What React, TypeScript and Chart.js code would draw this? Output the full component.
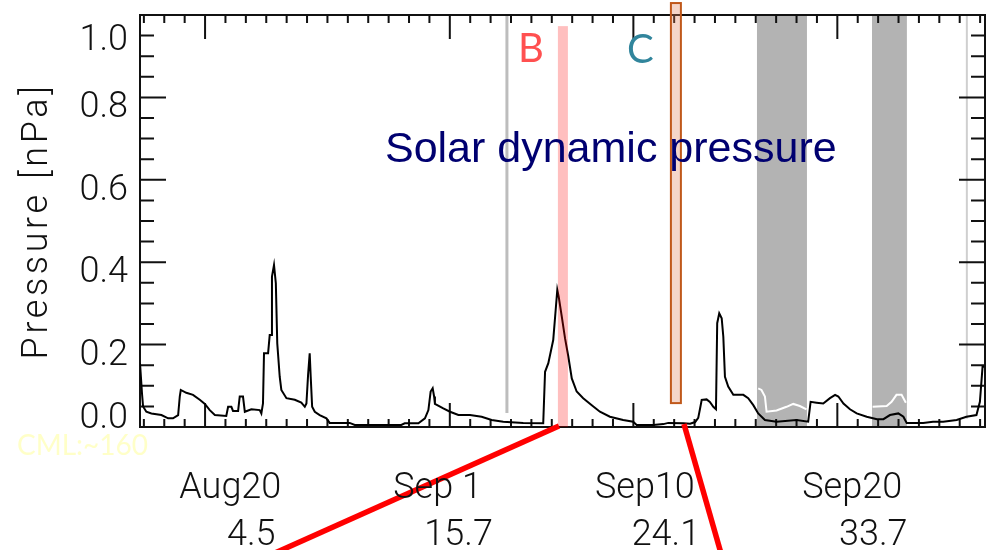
import React, { useEffect, useRef } from "react";
import { Chart, registerables } from "chart.js";

Chart.register(...registerables);

// Day of year (fractional), solar wind dynamic pressure [nPa]
const pressureDay = [
  228.81, 228.91, 228.96, 229.12, 229.37, 229.86, 230.19, 230.43, 230.68, 230.76,
  230.81, 231.08, 231.41, 231.74, 231.99, 232.23, 232.48, 233.04, 233.13, 233.29,
  233.37, 233.62, 233.7, 233.86, 233.95, 234.27, 234.68, 234.76, 234.84, 234.89,
  235.09, 235.17, 235.25, 235.28, 235.38, 235.47, 235.54, 235.66, 235.74, 235.99,
  236.4, 236.72, 236.89, 236.97, 237.05, 237.13, 237.18, 237.25, 237.38, 237.62,
  237.95, 238.11, 239.09, 239.34, 241.62, 241.79, 242.46, 242.78, 242.95, 243.06,
  243.16, 243.23, 243.27, 243.68, 244.01, 244.42, 244.99, 245.56, 246.05, 246.62,
  247.6, 248.58, 248.67, 248.83, 249.07, 249.19, 249.27, 249.34, 249.49, 249.65,
  249.81, 249.98, 250.22, 250.54, 250.96, 251.36, 251.85, 252.5, 252.99, 253.16,
  253.98, 254.47, 254.71, 255.45, 255.78, 256.03, 256.18, 256.27, 256.35, 256.59,
  256.75, 256.92, 257.05, 257.11, 257.21, 257.33, 257.41, 257.49, 257.65, 257.9,
  258.39, 258.63, 258.88, 259.12, 259.45, 260.02, 261.0, 261.57, 261.69, 261.98,
  262.31, 262.64, 262.89, 263.05, 263.3, 263.62, 263.95, 264.44, 264.94, 265.26,
  265.58, 265.99, 266.24, 266.4, 267.21, 267.69, 268.19, 268.85, 269.33, 269.82,
  269.99, 270.12, 270.19,
];
const pressureValue = [
  0.155, 0.08, 0.05, 0.037, 0.033, 0.029, 0.021, 0.021, 0.029, 0.074,
  0.09, 0.083, 0.078, 0.066, 0.056, 0.041, 0.029, 0.027, 0.049, 0.049,
  0.039, 0.039, 0.074, 0.074, 0.037, 0.043, 0.041, 0.033, 0.057, 0.179,
  0.179, 0.223, 0.223, 0.365, 0.393, 0.349, 0.203, 0.122, 0.09, 0.07,
  0.066, 0.059, 0.049, 0.057, 0.126, 0.179, 0.122, 0.049, 0.037, 0.029,
  0.021, 0.01, 0.01, 0.005, 0.005, 0.009, 0.009, 0.021, 0.041, 0.086,
  0.094, 0.074, 0.056, 0.045, 0.037, 0.029, 0.029, 0.025, 0.017, 0.013,
  0.01, 0.009, 0.134, 0.155, 0.211, 0.284, 0.333, 0.316, 0.268, 0.215,
  0.171, 0.118, 0.086, 0.07, 0.053, 0.037, 0.025, 0.017, 0.013, 0.005,
  0.005, 0.007, 0.01, 0.009, 0.008, 0.012, 0.022, 0.045, 0.066, 0.067,
  0.061, 0.049, 0.043, 0.252, 0.276, 0.264, 0.219, 0.122, 0.098, 0.078,
  0.078, 0.07, 0.053, 0.033, 0.017, 0.013, 0.017, 0.013, 0.061, 0.059,
  0.057, 0.07, 0.078, 0.074, 0.057, 0.043, 0.033, 0.025, 0.019, 0.019,
  0.029, 0.033, 0.025, 0.01, 0.01, 0.013, 0.013, 0.017, 0.025, 0.029,
  0.061, 0.146, 0.146,
];

// Light trace only visible over the grey intervals (null = gap)
const overlayDay = [
  259.12, 259.28, 259.45, 259.53, 260.02, 260.51, 260.84, 261.16, 261.49, 263.0,
  264.73, 265.42, 265.66, 265.9, 266.15, 266.36,
];
const overlayValue = [
  0.094, 0.09, 0.074, 0.037, 0.04, 0.049, 0.056, 0.051, 0.043, null,
  0.049, 0.051, 0.061, 0.078, 0.078, 0.059,
];

const majorTickDays = [232, 244, 253, 263];
const xTickLabels = ["Aug20", "Sep 1", "Sep10", "Sep20"];
const xTickSubLabels = ["4.5", "15.7", "24.1", "33.7"];
const yTickValues = [0, 0.2, 0.4, 0.6, 0.8, 1.0];
const yTickLabels = ["0.0", "0.2", "0.4", "0.6", "0.8", "1.0"];

const shadedBands = [
  [259.06, 261.51],
  [264.7, 266.41],
];
const markerLineB = [246.8, 0.034, 1.0];
const markerLineEnd = [269.35, 0.02, 1.0];
const bandB = [249.3, 249.79, 0.973];
const boxC = [254.84, 255.33, 0.058, 1.029];
const calloutB = [
  [249.35, 0.0024],
  [234.56, -0.325],
];
const calloutC = [
  [255.48, 0.0073],
  [257.39, -0.3228],
];

const annotations = [
  { text: "Solar dynamic pressure", day: 240.82, value: 0.643, color: "#000070", font: '43px "Liberation Sans", Arial, sans-serif' },
  { text: "B", day: 247.34, value: 0.886, color: "#ff5050", font: "40px Lato, sans-serif" },
  { text: "C", day: 252.69, value: 0.883, color: "#31859c", font: "40px Lato, sans-serif" },
  { text: "CML:~160", day: 222.78, value: -0.068, color: "#ffffc8", font: "28px Lato, sans-serif" },
];

const IDL_FONT = '300 36px Roboto, "DejaVu Sans", sans-serif';

const decorPlugin = {
  id: "decor",
  beforeDatasetsDraw(chart: any) {
    const { ctx, chartArea: a, scales } = chart;
    const x = scales.x;
    const y = scales.y;
    ctx.save();
    // grey intervals
    ctx.fillStyle = "#b3b3b3";
    for (const [d0, d1] of shadedBands) {
      const p0 = x.getPixelForValue(d0);
      const p1 = x.getPixelForValue(d1);
      ctx.fillRect(p0, a.top, p1 - p0, a.bottom - a.top);
    }
    // grey marker lines
    ctx.strokeStyle = "#bdbdbd";
    ctx.lineWidth = 3;
    ctx.beginPath();
    ctx.moveTo(x.getPixelForValue(markerLineB[0]), y.getPixelForValue(markerLineB[2]));
    ctx.lineTo(x.getPixelForValue(markerLineB[0]), y.getPixelForValue(markerLineB[1]));
    ctx.stroke();
    ctx.strokeStyle = "#cfcfcf";
    ctx.lineWidth = 2;
    ctx.beginPath();
    ctx.moveTo(x.getPixelForValue(markerLineEnd[0]), y.getPixelForValue(markerLineEnd[2]));
    ctx.lineTo(x.getPixelForValue(markerLineEnd[0]), y.getPixelForValue(markerLineEnd[1]));
    ctx.stroke();

    // frame
    ctx.strokeStyle = "#111";
    ctx.lineWidth = 2;
    ctx.strokeRect(a.left, a.top, a.right - a.left, a.bottom - a.top);
    // ticks
    ctx.beginPath();
    for (let d = Math.ceil(x.min); d <= x.max; d++) {
      const px = x.getPixelForValue(d);
      const len = majorTickDays.includes(d) ? 24 : 8;
      ctx.moveTo(px, a.bottom);
      ctx.lineTo(px, a.bottom - len);
      ctx.moveTo(px, a.top);
      ctx.lineTo(px, a.top + len);
    }
    for (let k = 0; k <= 20; k++) {
      const py = y.getPixelForValue(k * 0.05);
      const len = k % 4 === 0 ? 26 : 14;
      ctx.moveTo(a.left, py);
      ctx.lineTo(a.left + len, py);
      ctx.moveTo(a.right, py);
      ctx.lineTo(a.right - len, py);
    }
    ctx.stroke();

    // box C
    const bx0 = x.getPixelForValue(boxC[0]);
    const bx1 = x.getPixelForValue(boxC[1]);
    const by0 = y.getPixelForValue(boxC[3]);
    const by1 = y.getPixelForValue(boxC[2]);
    ctx.fillStyle = "rgba(225,130,90,0.33)";
    ctx.fillRect(bx0, by0, bx1 - bx0, by1 - by0);
    ctx.strokeStyle = "#c0581a";
    ctx.lineWidth = 2;
    ctx.strokeRect(bx0, by0, bx1 - bx0, by1 - by0);
    ctx.restore();
  },
  afterDatasetsDraw(chart: any) {
    const { ctx, chartArea: a, scales } = chart;
    const x = scales.x;
    const y = scales.y;
    const xl = scales.xl;
    ctx.save();
    // band B (translucent)
    const p0 = x.getPixelForValue(bandB[0]);
    const p1 = x.getPixelForValue(bandB[1]);
    const pt = y.getPixelForValue(bandB[2]);
    ctx.fillStyle = "rgba(255,0,0,0.25)";
    ctx.fillRect(p0, pt, p1 - p0, a.bottom - pt);

    // y tick labels
    ctx.fillStyle = "#111";
    ctx.font = IDL_FONT;
    ctx.textAlign = "right";
    ctx.textBaseline = "alphabetic";
    yTickValues.forEach((v, i) => {
      const c = Math.min(Math.max(y.getPixelForValue(v) + 7, a.top + 22), a.bottom - 12);
      ctx.fillText(yTickLabels[i], a.left - 12, c + 13);
    });
    // x tick labels
    ctx.textAlign = "center";
    xTickLabels.forEach((lab, i) => {
      const cx = xl.getPixelForValue(i);
      ctx.fillText(lab, cx, a.bottom + 71);
      ctx.fillText(xTickSubLabels[i], cx + 21, a.bottom + 118);
    });
    // y title
    ctx.save();
    ctx.translate(a.left - 93, (a.top + a.bottom) / 2);
    ctx.rotate(-Math.PI / 2);
    (ctx as any).letterSpacing = "3.6px";
    ctx.textAlign = "center";
    ctx.fillText("Pressure [nPa]", 0, 0);
    ctx.restore();

    // annotations
    ctx.textAlign = "left";
    for (const t of annotations) {
      ctx.font = t.font;
      ctx.fillStyle = t.color;
      ctx.fillText(t.text, x.getPixelForValue(t.day), y.getPixelForValue(t.value));
    }
    ctx.restore();
  },
};

export default function App() {
  const ref = useRef<HTMLCanvasElement | null>(null);
  useEffect(() => {
    if (!ref.current) return;
    const toPts = (xs: number[], ys: (number | null)[]) => xs.map((d, i) => ({ x: d, y: ys[i] }));
    const chart = new Chart(ref.current, {
      type: "line",
      data: {
        datasets: [
          {
            data: calloutB.map(([d, v]) => ({ x: d, y: v })),
            borderColor: "#ff0000",
            borderWidth: 5.5,
            pointRadius: 0,
            clip: false as any,
            order: 0,
          },
          {
            data: calloutC.map(([d, v]) => ({ x: d, y: v })),
            borderColor: "#ff0000",
            borderWidth: 5.5,
            pointRadius: 0,
            clip: false as any,
            order: 0,
          },
          {
            data: toPts(pressureDay, pressureValue),
            borderColor: "#000000",
            borderWidth: 2,
            pointRadius: 0,
            tension: 0,
            order: 1,
          },
          {
            data: toPts(overlayDay, overlayValue),
            borderColor: "#ffffff",
            borderWidth: 2,
            pointRadius: 0,
            tension: 0,
            spanGaps: false,
            order: 2,
          },
        ],
      },
      options: {
        responsive: false,
        animation: false,
        devicePixelRatio: 1,
        layout: { padding: { left: 140, right: 8, top: 15, bottom: 123 } },
        plugins: { legend: { display: false }, tooltip: { enabled: false } },
        events: [],
        scales: {
          x: { type: "linear", display: false, min: 228.81, max: 270.24 },
          xl: { type: "linear", axis: "x", position: "bottom", display: false, min: -0.4356, max: 3.6406 },
          y: { type: "linear", display: false, min: 0, max: 1 },
        },
      },
      plugins: [decorPlugin],
    });
    return () => chart.destroy();
  }, []);
  return (
    <div style={{ position: "absolute", left: 0, top: 0, width: 993, height: 550, background: "#fff" }}>
      <canvas ref={ref} width={993} height={550} style={{ display: "block" }} />
    </div>
  );
}
